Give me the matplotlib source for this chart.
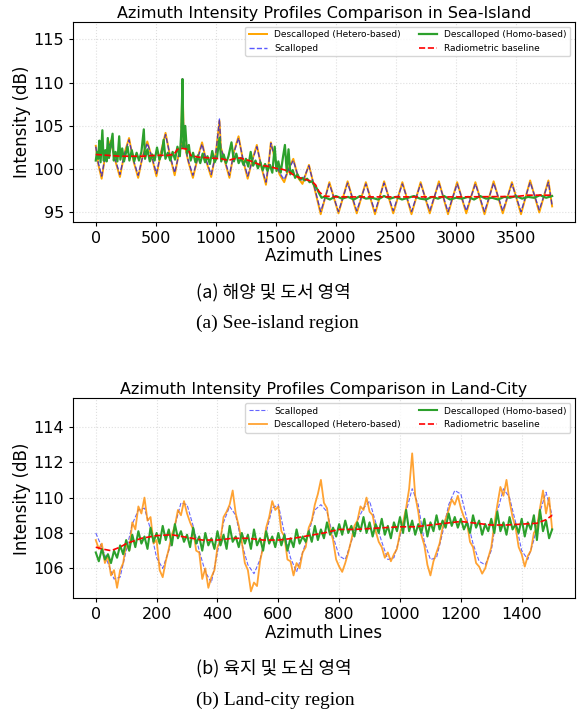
import numpy as np
import matplotlib.pyplot as plt

# ---- Sea-Island profiles (azimuth line, dB) ----
sea_scal_x = [0, 20, 49, 80, 100, 125, 160, 201, 240, 277, 315, 353, 390, 429, 470, 505,
              545, 581, 620, 657, 690, 710, 722, 733, 770, 809, 850, 885, 920, 961, 1000,
              1030, 1042, 1075, 1113, 1150, 1189, 1225, 1265, 1300, 1341, 1380, 1417, 1440,
              1458, 1493, 1530, 1569, 1610, 1645, 1685, 1721, 1775, 1873, 1945, 2021, 2097,
              2173, 2249, 2325, 2401, 2477, 2553, 2629, 2705, 2781, 2857, 2933, 3009, 3085,
              3161, 3237, 3313, 3389, 3465, 3541, 3617, 3693, 3769, 3800]
sea_scal_y = [102.6, 100.8, 99.2, 101.6, 102.4, 103.1, 101.2, 99.4, 101.8, 103.4, 101.0, 99.3,
              101.4, 103.0, 101.3, 99.5, 102.0, 104.0, 101.5, 99.6, 101.6, 102.6, 110.6, 103.2,
              101.0, 99.3, 101.3, 102.9, 101.0, 99.4, 101.8, 105.8, 102.4, 101.0, 99.3, 101.9,
              103.6, 101.2, 99.2, 100.8, 102.6, 100.3, 98.5, 100.6, 103.0, 101.2, 99.6, 98.8,
              100.1, 101.0, 99.2, 98.6, 100.4, 95.1, 98.3, 95.1, 98.4, 95.2, 98.3, 95.1, 98.4,
              95.2, 98.3, 95.1, 98.3, 95.2, 98.4, 95.1, 98.3, 95.2, 98.3, 95.1, 98.4, 95.2,
              98.3, 95.1, 98.5, 95.3, 98.5, 95.8]
sea_hetero_y = [102.7, 100.6, 98.9, 101.7, 102.5, 103.3, 101.1, 99.1, 101.9, 103.6, 100.9, 99.0,
                101.5, 103.2, 101.2, 99.2, 102.1, 104.2, 101.4, 99.3, 101.7, 102.7, 110.4, 103.3,
                100.9, 99.0, 101.4, 103.1, 100.9, 99.1, 101.9, 105.6, 102.5, 100.9, 99.0, 102.0,
                103.8, 101.1, 98.9, 100.9, 102.8, 100.2, 98.2, 100.7, 103.1, 101.1, 99.4, 98.5,
                100.2, 101.2, 99.0, 98.3, 100.5, 94.8, 98.5, 94.9, 98.6, 94.9, 98.5, 94.8, 98.6,
                94.9, 98.5, 94.8, 98.5, 94.9, 98.6, 94.8, 98.5, 94.9, 98.5, 94.8, 98.6, 94.9,
                98.5, 94.8, 98.7, 95.0, 98.7, 95.7]

sea_homo_x = [0, 10, 20, 30, 40, 55, 65, 80, 90, 100, 110, 125, 140, 150, 165, 180, 195, 205,
              220, 235, 250, 265, 280, 300, 320, 340, 360, 380, 400, 410, 430, 450, 470, 490,
              510, 530, 550, 565, 580, 600, 620, 640, 660, 680, 700, 712, 722, 730, 745, 760,
              775, 790, 810, 830, 850, 870, 890, 910, 930, 950, 970, 990, 1010, 1030, 1045,
              1065, 1085, 1105, 1130, 1150, 1170, 1190, 1210, 1230, 1250, 1270, 1290, 1310,
              1330, 1350, 1370, 1390, 1410, 1430, 1450, 1470, 1490, 1505, 1520, 1540, 1560,
              1575, 1590, 1605, 1620, 1640, 1660, 1680, 1700, 1720, 1740, 1760, 1780, 1800,
              1820, 1840, 1860, 1880, 1900, 1950, 2000, 2050, 2100, 2150, 2200, 2250, 2300,
              2350, 2400, 2450, 2500, 2550, 2600, 2650, 2700, 2750, 2800, 2850, 2900, 2950,
              3000, 3050, 3100, 3150, 3200, 3250, 3300, 3350, 3400, 3450, 3500, 3550, 3600,
              3650, 3700, 3750, 3800]
sea_homo_y = [101.0, 102.0, 101.2, 103.3, 100.8, 104.5, 101.0, 102.2, 100.9, 103.6, 101.3, 102.8,
              104.1, 101.0, 102.0, 100.9, 103.8, 101.1, 102.4, 100.9, 101.8, 102.6, 101.0, 102.2,
              100.9, 101.9, 101.0, 102.0, 104.6, 101.2, 102.3, 100.9, 101.7, 101.0, 102.5, 101.1,
              101.8, 103.4, 101.2, 101.9, 101.0, 102.0, 101.1, 102.6, 101.5, 104.2, 110.4, 102.5,
              105.0, 101.8, 102.8, 101.0, 101.9, 100.8, 101.6, 100.7, 101.8, 100.8, 101.5, 100.6,
              102.1, 100.8, 101.4, 103.6, 100.9, 101.7, 100.7, 101.5, 103.1, 100.9, 101.8, 100.7,
              101.3, 100.5, 101.2, 100.3, 102.0, 100.4, 101.0, 100.1, 100.8, 99.9, 100.6, 99.8,
              100.5, 99.6, 102.6, 99.8, 100.9, 99.6, 101.5, 102.8, 99.7, 102.3, 99.4, 99.9, 99.0,
              99.4, 98.8, 99.0, 98.7, 98.9, 98.5, 98.6, 98.1, 97.8, 97.2, 96.7, 96.8, 96.5, 96.9,
              96.6, 96.8, 96.5, 96.9, 96.6, 96.7, 96.5, 96.9, 96.6, 96.8, 96.5, 96.7, 96.9, 96.6,
              96.5, 96.8, 96.6, 96.9, 96.5, 96.7, 96.6, 96.8, 96.5, 96.9, 96.6, 96.7, 96.5, 96.8,
              96.7, 96.9, 96.6, 96.8, 96.7, 97.0, 96.7, 96.9]

sea_base_x = [0, 100, 200, 300, 400, 500, 600, 650, 680, 720, 770, 790, 850, 950, 1050, 1100,
              1150, 1200, 1250, 1300, 1350, 1400, 1450, 1500, 1550, 1600, 1650, 1700, 1750,
              1800, 1830, 1860, 1900, 2000, 2500, 3000, 3500, 3600, 3800]
sea_base_y = [101.7, 101.6, 101.5, 101.5, 101.5, 101.6, 101.6, 101.7, 102.3, 102.4, 102.3,
              101.6, 101.4, 101.3, 101.2, 101.0, 101.2, 101.3, 101.1, 100.9, 100.6, 100.4,
              100.3, 100.1, 100.0, 99.8, 99.3, 99.0, 98.8, 98.6, 98.2, 97.4, 96.9, 96.8, 96.8,
              96.8, 96.85, 97.0, 97.0]

# ---- Land-City profiles ----
land_x10 = np.arange(0, 1501, 10)
land_hetero = [107.6, 107.1, 107.4, 106.3, 106.7, 105.6, 105.9, 104.9, 105.9, 106.3,
               107.4, 107.0, 108.6, 108.2, 109.5, 109.1, 110.0, 108.7, 108.9, 107.4,
               107.6, 105.9, 105.5, 106.4, 107.1, 107.9, 108.4, 109.3, 109.0, 109.8,
               109.1, 108.6, 108.2, 107.0, 106.9, 105.4, 106.0, 104.9, 105.5, 105.9,
               107.2, 107.6, 108.9, 109.2, 109.6, 110.4, 109.1, 108.4, 107.5, 106.3,
               105.9, 104.7, 105.2, 105.0, 106.4, 107.2, 108.3, 108.9, 109.8, 109.3,
               109.5, 108.1, 107.8, 106.5, 106.4, 105.6, 106.3, 106.0, 106.9, 107.2,
               108.3, 108.7, 109.6, 110.2, 111.0, 109.7, 109.4, 108.2, 107.6, 106.5,
               106.1, 105.8, 106.3, 106.9, 107.6, 108.4, 108.7, 109.5, 109.3, 110.0,
               109.2, 109.0, 108.1, 107.5, 107.2, 106.6, 106.9, 106.4, 106.8, 107.1,
               108.0, 108.6, 109.4, 110.5, 112.5, 110.1, 109.2, 107.9, 107.3, 106.2,
               105.6, 106.4, 106.9, 107.4, 108.3, 108.8, 109.3, 109.9, 109.6, 110.1,
               109.4, 108.9, 108.6, 107.5, 107.2, 106.3, 106.1, 105.7, 106.0, 106.6,
               107.2, 108.5, 109.6, 110.6, 110.1, 111.0, 109.8, 108.9, 108.3, 107.2,
               106.8, 106.1, 106.7, 107.0, 108.0, 108.3, 109.4, 110.4, 109.1, 110.0,
               108.2]
land_homo = [106.9, 106.4, 107.1, 106.5, 106.8, 106.3, 107.0, 106.6, 107.3, 106.8,
             107.6, 107.0, 107.9, 107.2, 108.1, 107.4, 107.8, 107.1, 108.3, 107.5,
             108.0, 107.4, 108.4, 107.6, 108.2, 107.3, 108.5, 107.7, 108.1, 107.5,
             107.9, 107.2, 108.3, 107.4, 107.8, 107.0, 108.0, 107.3, 107.7, 107.1,
             108.1, 107.3, 107.9, 107.1, 108.4, 107.5, 107.8, 107.2, 108.0, 107.4,
             107.9, 107.1, 108.2, 107.3, 107.7, 107.0, 108.1, 107.4, 107.8, 107.2,
             108.0, 107.3, 107.9, 107.0, 107.7, 107.2, 108.2, 107.4, 107.8, 107.5,
             108.1, 107.5, 108.4, 107.6, 108.2, 107.7, 108.6, 107.9, 108.3, 107.8,
             108.5, 107.9, 108.7, 108.0, 108.4, 107.8, 108.6, 108.1, 108.9, 108.0,
             108.6, 107.8, 108.5, 108.0, 108.8, 107.9, 108.4, 107.7, 108.6, 108.1,
             108.9, 108.0, 109.3, 108.1, 108.7, 107.9, 108.5, 108.0, 108.8, 107.8,
             108.6, 108.1, 109.0, 108.2, 108.7, 108.3, 109.1, 108.4, 108.9, 108.3,
             108.8, 108.2, 108.6, 108.0, 109.0, 108.3, 108.7, 107.9, 108.5, 108.1,
             108.8, 108.0, 109.2, 108.1, 108.6, 107.9, 108.9, 108.2, 108.5, 108.0,
             108.8, 107.8, 108.6, 108.2, 109.0, 107.6, 109.3, 108.1, 108.7, 107.7,
             108.2]
land_x20 = np.arange(0, 1501, 20)
land_scal = [108.0, 107.2, 106.3, 105.4, 105.5, 107.0, 108.5, 109.3, 109.4, 108.2,
             106.6, 106.0, 107.0, 108.4, 109.7, 109.6, 108.4, 107.0, 105.8, 105.2,
             106.9, 108.6, 109.5, 109.0, 107.4, 106.2, 105.7, 106.5, 108.0, 109.4,
             109.6, 108.0, 106.6, 105.8, 106.9, 108.0, 109.3, 109.6, 109.2, 107.8,
             106.7, 106.5, 107.5, 108.7, 109.4, 109.8, 108.6, 107.5, 106.5, 106.6,
             107.8, 109.2, 110.5, 109.6, 107.5, 106.5, 106.6, 108.0, 109.6, 110.4,
             110.2, 108.8, 107.4, 106.4, 106.2, 107.0, 109.2, 110.5, 110.0, 108.6,
             107.0, 106.5, 107.6, 109.2, 110.3, 109.0]
land_base_x = [0, 20, 50, 80, 100, 150, 200, 250, 300, 350, 400, 450, 500, 550, 600, 650,
               700, 750, 800, 850, 900, 950, 1000, 1050, 1100, 1150, 1200, 1250, 1300, 1350,
               1400, 1450, 1480, 1500]
land_base_y = [107.2, 107.1, 107.0, 107.2, 107.4, 107.7, 107.85, 107.9, 107.75, 107.6, 107.6,
               107.7, 107.7, 107.6, 107.6, 107.7, 107.85, 108.0, 108.2, 108.2, 108.25, 108.3,
               108.35, 108.35, 108.45, 108.55, 108.65, 108.55, 108.45, 108.45, 108.5, 108.55,
               108.75, 109.0]

fig = plt.figure(figsize=(5.79, 7.15), dpi=100)

# (a) Sea-Island
ax1 = fig.add_axes([0.126, 0.6895, 0.867, 0.2797])
ax1.plot(sea_scal_x, sea_hetero_y, color='orange', lw=1.4, label='Descalloped (Hetero-based)')
ax1.plot(sea_scal_x, sea_scal_y, color='blue', ls='--', lw=1.0, alpha=0.65, label='Scalloped')
ax1.plot(sea_homo_x, sea_homo_y, color='tab:green', lw=1.6, label='Descalloped (Homo-based)')
ax1.plot(sea_base_x, sea_base_y, color='red', ls='--', lw=1.2, label='Radiometric baseline')
ax1.set_ylim(93.9, 117.0)
ax1.set_yticks([95, 100, 105, 110, 115])
ax1.set_xticks(range(0, 3501, 500))
ax1.set_title('Azimuth Intensity Profiles Comparison in Sea-Island', fontsize=11.5, pad=3)
ax1.set_xlabel('Azimuth Lines', fontsize=12, labelpad=1)
ax1.set_ylabel('Intensity (dB)', fontsize=12, labelpad=2)
ax1.tick_params(labelsize=11.5, length=3)
ax1.grid(True, ls=':', alpha=0.4)
ax1.legend(loc='upper right', ncol=2, fontsize=6.5)

# (b) Land-City
ax2 = fig.add_axes([0.126, 0.163, 0.867, 0.2797])
ax2.plot(land_x20, land_scal, color='blue', ls='--', lw=0.8, alpha=0.6, label='Scalloped')
ax2.plot(land_x10, land_hetero, color='darkorange', lw=1.3, alpha=0.8, label='Descalloped (Hetero-based)')
ax2.plot(land_x10, land_homo, color='tab:green', lw=1.5, label='Descalloped (Homo-based)')
ax2.plot(land_base_x, land_base_y, color='red', ls='--', lw=1.2, label='Radiometric baseline')
ax2.set_ylim(104.3, 115.6)
ax2.set_yticks([106, 108, 110, 112, 114])
ax2.set_xticks(range(0, 1401, 200))
ax2.set_title('Azimuth Intensity Profiles Comparison in Land-City', fontsize=11.5, pad=3)
ax2.set_xlabel('Azimuth Lines', fontsize=12, labelpad=1)
ax2.set_ylabel('Intensity (dB)', fontsize=12, labelpad=2)
ax2.tick_params(labelsize=11.5, length=3)
ax2.grid(True, ls=':', alpha=0.4)
ax2.legend(loc='upper right', ncol=2, fontsize=6.5)

# captions
kr = ['Noto Sans CJK KR', 'DejaVu Sans']
fig.text(0.339, 1 - 292 / 715, '(a) 해양 및 도서 영역', family=kr, fontsize=13, va='center')
fig.text(0.339, 1 - 323 / 715, '(a) See-island region', family='Liberation Serif', fontsize=14, va='center')
fig.text(0.339, 1 - 668 / 715, '(b) 육지 및 도심 영역', family=kr, fontsize=13, va='center')
fig.text(0.339, 1 - 700 / 715, '(b) Land-city region', family='Liberation Serif', fontsize=14, va='center')

fig.savefig('out.png', dpi=100)
